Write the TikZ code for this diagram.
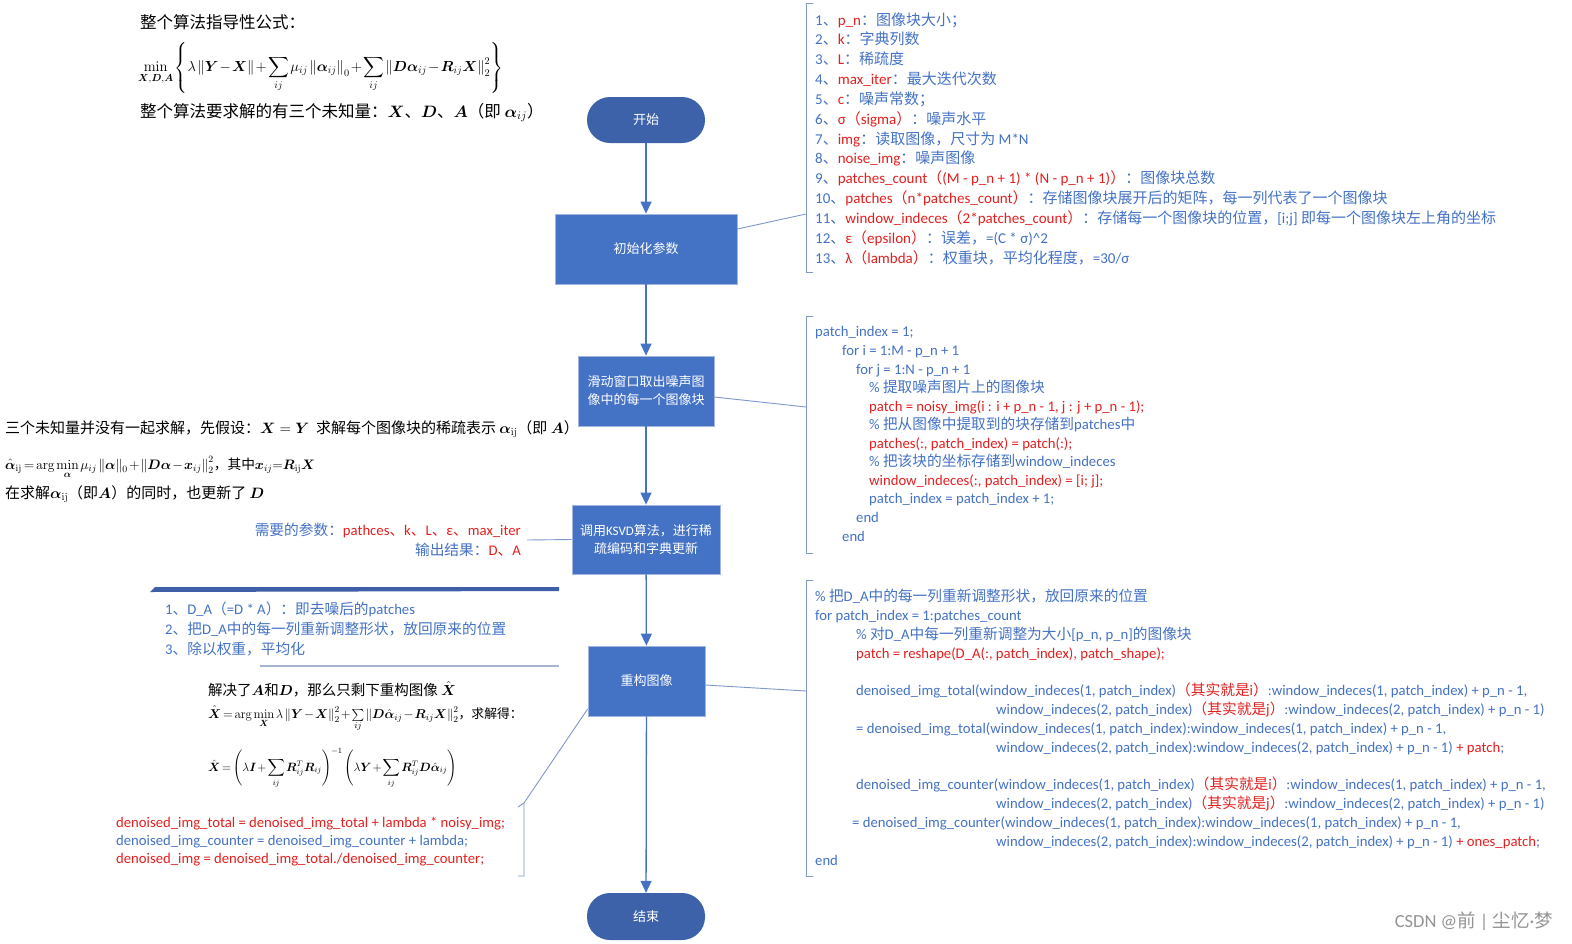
\RequirePackage{fix-cm}
\documentclass[tikz,border=0pt]{standalone}
\usepackage{amsmath}
\usepackage[no-math]{fontspec}
\setmainfont{Carlito}
\newfontfamily\cjkf{Noto Sans CJK SC}
\newcommand\latf{\rmfamily}
\usetikzlibrary{arrows.meta,calc}
\XeTeXinterchartokenstate=1
\newcount\cjkcc
\def\setcjkrange#1#2{\cjkcc=#1\relax\loop\XeTeXcharclass\cjkcc=7\relax\ifnum\cjkcc<#2\advance\cjkcc by 1\repeat}
\setcjkrange{"3000}{"303F}
\setcjkrange{"4E00}{"9FFF}
\setcjkrange{"FF00}{"FFEF}
\XeTeXinterchartoks 0 7 = {\cjkf}
\XeTeXinterchartoks 4095 7 = {\cjkf}
\XeTeXinterchartoks 7 0 = {\latf}
\XeTeXinterchartoks 7 4095 = {\latf}
\definecolor{tblue}{HTML}{4472C4}
\definecolor{tred}{HTML}{E3201F}
\definecolor{fblue}{HTML}{4472C4}
\definecolor{fborder}{HTML}{A3B6DE}
\definecolor{dblue}{HTML}{3D62AA}
\definecolor{bline}{HTML}{7F98C8}
\definecolor{barblue}{HTML}{3F5FA8}
\definecolor{thinline}{HTML}{A8B5D1}
\newcommand\redt[1]{\textcolor{tred}{#1}}
\newcommand\bsy[1]{\boldsymbol{#1}}
\newcommand\tightmath{\medmuskip=1.5mu\thickmuskip=2.5mu\thinmuskip=2mu}
\tikzset{
  flowbox/.style={rectangle, fill=fblue, draw=fborder, line width=0.8pt, text=white, align=center, inner sep=0pt, font=\fontsize{13}{18}\selectfont},
  term/.style={rectangle, rounded corners=23pt, fill=dblue, text=white, minimum width=118pt, minimum height=46pt, inner sep=0pt, font=\fontsize{13}{16}\selectfont},
  arr/.style={draw=fblue, line width=1.3pt, -{Triangle[length=12pt,width=11pt]}},
  brk/.style={draw=bline, line width=0.9pt},
  conn/.style={draw=bline, line width=0.9pt},
  code/.style={anchor=base west, inner sep=0pt, align=left, text=tblue},
  ftxt/.style={anchor=base west, inner sep=0pt, align=left, text=black},
}
\begin{document}
\begin{tikzpicture}[x=1pt,y=-1pt]
\useasboundingbox[fill=white] (0,0) rectangle (1572,943);

% ---------- flow chart ----------
\node[term] (start) at (646,120) {开始};
\node[flowbox, minimum width=182pt, minimum height=70pt] (s1) at (646,249) {初始化参数};
\node[flowbox, minimum width=136pt, minimum height=70pt] (s2) at (646,391) {滑动窗口取出噪声图\\像中的每一个图像块};
\node[flowbox, minimum width=148pt, minimum height=69pt] (s3) at (646,539.5) {调用KSVD算法，进行稀\\疏编码和字典更新};
\node[flowbox, minimum width=117pt, minimum height=70pt] (s4) at (646.5,681) {重构图像};
\node[term, minimum height=47pt] (end) at (646,916.5) {结束};

\draw[arr] (start) -- (s1);
\draw[arr] (s1) -- (s2);
\draw[arr] (s2) -- (s3);
\draw[arr] (s3) -- (s4);
\draw[arr] (s4) -- (end);

% ---------- brackets ----------
\coordinate (pbt) at (806,3);
\coordinate (pbb) at (806,272);
\coordinate (pbc) at (806,214);
\draw[brk] ([xshift=7pt]pbt) -- (pbt) -- (pbb) -- ([xshift=7pt]pbb);
\draw[conn] ([yshift=20pt]s1.east) -- (pbc);

\coordinate (c1t) at (806,316);
\coordinate (c1b) at (806,553);
\coordinate (c1c) at (806,407);
\draw[brk] ([xshift=7pt]c1t) -- (c1t) -- (c1b) -- ([xshift=7pt]c1b);
\draw[conn] ([yshift=-6pt]s2.east) -- (c1c);

\coordinate (c2t) at (806,580);
\coordinate (c2b) at (806,876);
\coordinate (c2c) at (806,691);
\draw[brk] ([xshift=7pt]c2t) -- (c2t) -- (c2b) -- ([xshift=7pt]c2b);
\draw[conn] ([yshift=-4pt]s4.east) -- (c2c);

\coordinate (lbt) at (524,803);
\coordinate (lbb) at (524,876);
\draw[brk] ([xshift=-6pt,yshift=-4pt]lbt) -- (lbt) -- (lbb) -- ([xshift=-6pt]lbb);
\draw[conn] ([yshift=-28pt]s4.west) -- (lbt);

\coordinate (npc) at (527,540);
\draw[conn] (npc) -- (s3.west);

% ---------- parameter list (anchor = baseline of last line) ----------
\node[code, font=\fontsize{15}{19.83}\selectfont] (params) at (815,263) {%
1、\redt{p\_n}：图像块大小；\\
2、\redt{k}：字典列数\\
3、\redt{L}：稀疏度\\
4、\redt{max\_iter}：最大迭代次数\\
5、\redt{c}：噪声常数；\\
6、\redt{σ（sigma）}：噪声水平\\
7、\redt{img}：读取图像，尺寸为 M*N\\
8、\redt{noise\_img}：噪声图像\\
9、\redt{patches\_count（(M - p\_n + 1) * (N - p\_n + 1)）}：图像块总数\\
10、\redt{patches（n*patches\_count）}：存储图像块展开后的矩阵，每一列代表了一个图像块\\
11、\redt{window\_indeces（2*patches\_count）}：存储每一个图像块的位置，[i;j] 即每一个图像块左上角的坐标\\
12、\redt{ε（epsilon）}：误差，=(C * σ)\textasciicircum 2\\
13、\redt{λ（lambda）}：权重块，平均化程度，=30/σ};

% ---------- code block 1 ----------
\node[code, font=\fontsize{14.7}{18.55}\selectfont] (code1) at (815,541) {%
patch\_index = 1;\\
\hspace*{27pt}for i = 1:M - p\_n + 1\\
\hspace*{41pt}for j = 1:N - p\_n + 1\\
\hspace*{54pt}\% 提取噪声图片上的图像块\\
\hspace*{54pt}\redt{patch = noisy\_img(i : i + p\_n - 1, j : j + p\_n - 1);}\\
\hspace*{54pt}\% 把从图像中提取到的块存储到patches中\\
\hspace*{54pt}\redt{patches(:, patch\_index) = patch(:);}\\
\hspace*{54pt}\% 把该块的坐标存储到window\_indeces\\
\hspace*{54pt}\redt{window\_indeces(:, patch\_index) = [i; j];}\\
\hspace*{54pt}patch\_index = patch\_index + 1;\\
\hspace*{41pt}end\\
\hspace*{27pt}end};

% ---------- code block 2 ----------
\node[code, font=\fontsize{14.7}{18.79}\selectfont] (code2) at (815,865) {%
\% 把D\_A中的每一列重新调整形状，放回原来的位置\\
for patch\_index = 1:patches\_count\\
\hspace*{41pt}\% 对D\_A中每一列重新调整为大小[p\_n, p\_n]的图像块\\
\hspace*{41pt}\redt{patch = reshape(D\_A(:, patch\_index), patch\_shape);}\\[18.79pt]
\hspace*{41pt}denoised\_img\_total(window\_indeces(1, patch\_index)\redt{（其实就是i）}:window\_indeces(1, patch\_index) + p\_n - 1,\\
\hspace*{181pt}window\_indeces(2, patch\_index)\redt{（其实就是j）}:window\_indeces(2, patch\_index) + p\_n - 1)\\
\hspace*{41pt}= denoised\_img\_total(window\_indeces(1, patch\_index):window\_indeces(1, patch\_index) + p\_n - 1,\\
\hspace*{181pt}window\_indeces(2, patch\_index):window\_indeces(2, patch\_index) + p\_n - 1) \redt{+ patch};\\[18.79pt]
\hspace*{41pt}denoised\_img\_counter(window\_indeces(1, patch\_index)\redt{（其实就是i）}:window\_indeces(1, patch\_index) + p\_n - 1,\\
\hspace*{181pt}window\_indeces(2, patch\_index)\redt{（其实就是j）}:window\_indeces(2, patch\_index) + p\_n - 1)\\
\hspace*{37pt}= denoised\_img\_counter(window\_indeces(1, patch\_index):window\_indeces(1, patch\_index) + p\_n - 1,\\
\hspace*{181pt}window\_indeces(2, patch\_index):window\_indeces(2, patch\_index) + p\_n - 1) \redt{+ ones\_patch};\\
end};

% ---------- top-left formulas ----------
\node[ftxt, font=\fontsize{16.5}{20}\selectfont] (f1) at (140,28) {整个算法指导性公式：};
\node[ftxt, anchor=west, font=\fontsize{14.6}{20}\selectfont] (f2) at (138,68) {$\tightmath\displaystyle\min_{\bsy X,\bsy D,\bsy A}\left\{\lambda\left\|\bsy Y-\bsy X\right\|+\sum_{ij}\mu_{ij}\left\|\bsy\alpha_{ij}\right\|_0+\sum_{ij}\left\|\bsy D\bsy\alpha_{ij}-\bsy R_{ij}\bsy X\right\|_2^2\right\}$};
\node[ftxt, font=\fontsize{16.5}{20}\selectfont] (f3) at (140,117) {整个算法要求解的有三个未知量：$\bsy X$、$\bsy D$、$\bsy A$（即 $\bsy\alpha_{ij}$）};

% ---------- middle-left ----------
\node[ftxt, font=\fontsize{15}{18}\selectfont] (m1) at (5,433) {三个未知量并没有一起求解，先假设：$\bsy X=\bsy Y$\ \ 求解每个图像块的稀疏表示 $\bsy\alpha_{\mathrm{ij}}$（即 $\bsy A$）};
\node[ftxt, font=\fontsize{13.7}{18}\selectfont] (m2) at (5,469) {$\tightmath\hat{\bsy\alpha}_{\mathrm{ij}}=\arg\min\limits_{\bsy\alpha}\mu_{ij}\left\|\bsy\alpha\right\|_0+\left\|\bsy D\bsy\alpha-\bsy x_{ij}\right\|_2^2$，其中$\medmuskip=0mu\thickmuskip=0mu\bsy x_{ij}=\bsy R_{\mathrm{ij}}\bsy X$};
\node[ftxt, font=\fontsize{15}{18}\selectfont] (m3) at (5,498) {在求解$\bsy\alpha_{\mathrm{ij}}$（即$\bsy A$）的同时，也更新了 $\bsy D$};

\node[code, anchor=base east, font=\fontsize{14.7}{20}\selectfont] (np1) at (521,535) {需要的参数：\redt{pathces、k、L、ε、max\_iter}};
\node[code, anchor=base east, font=\fontsize{14.7}{20}\selectfont] (np2) at (521,555) {输出结果：\redt{D、A}};

% ---------- reconstruction notes ----------
\fill[barblue] (150,592) -- (155,587) -- (559,587) -- (559,591) -- cycle;
\draw[thinline, line width=1.2pt] (260,666) -- (559,666);
\node[code, font=\fontsize{14.7}{20}\selectfont] (steps) at (165,654) {%
1、D\_A（=D * A）：即去噪后的patches\\
2、把D\_A中的每一列重新调整形状，放回原来的位置\\
3、除以权重，平均化};

\node[ftxt, font=\fontsize{14.5}{18}\selectfont] (x1) at (208,695) {解决了$\bsy A$和$\bsy D$，那么只剩下重构图像 $\hat{\bsy X}$};
\node[ftxt, anchor=west, font=\fontsize{12.8}{18}\selectfont] (x2) at (208,719) {$\tightmath\hat{\bsy X}=\arg\min\limits_{\bsy X}\lambda\left\|\bsy Y-\bsy X\right\|_2^2+\sum\limits_{ij}\left\|\bsy D\hat{\bsy\alpha}_{ij}-\bsy R_{ij}\bsy X\right\|_2^2$，求解得：};
\node[ftxt, anchor=west, font=\fontsize{12}{18}\selectfont] (x3) at (208,768) {$\tightmath\displaystyle\hat{\bsy X}=\left(\lambda\bsy I+\sum_{ij}\bsy R_{ij}^T\bsy R_{ij}\right)^{-1}\left(\lambda\bsy Y+\sum_{ij}\bsy R_{ij}^T\bsy D\hat{\bsy\alpha}_{ij}\right)$};

\node[code, font=\fontsize{14.7}{18}\selectfont] (dn) at (116,863) {%
\redt{denoised\_img\_total = denoised\_img\_total + lambda * noisy\_img;}\\
denoised\_img\_counter = denoised\_img\_counter + lambda;\\
\redt{denoised\_img = denoised\_img\_total./denoised\_img\_counter;}};

% ---------- watermark ----------
\node[anchor=east, inner sep=0pt, text=black!42, font=\fontsize{18.5}{20}\selectfont] (wm) at (1553,921) {CSDN @前 | 尘忆·梦};
\end{tikzpicture}
\end{document}
